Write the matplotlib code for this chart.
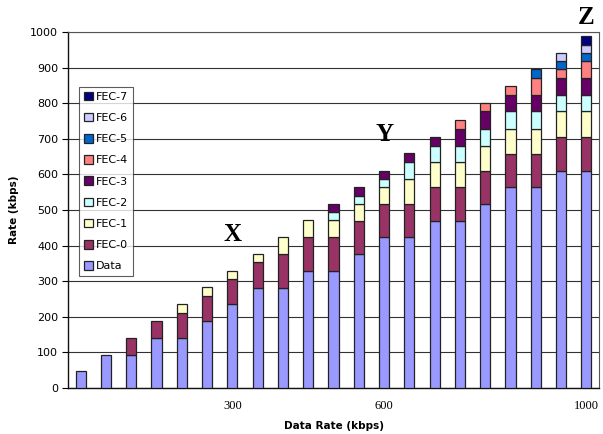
import numpy as np
import matplotlib
matplotlib.use("Agg")
import matplotlib.pyplot as plt

# stacked rate components (kbps) per data-rate step
data = [47, 94, 94, 141, 141, 188, 235, 282, 282, 329, 329, 376, 423, 423, 470, 470, 517, 564, 564, 611, 611]
fec0 = [0, 0, 47, 47, 70, 71, 71, 71, 94, 94, 94, 94, 94, 94, 94, 94, 94, 94, 94, 94, 94]
fec1 = [0, 0, 0, 0, 24, 24, 24, 24, 48, 48, 48, 47, 47, 71, 71, 71, 70, 71, 71, 73, 73]
fec2 = [0, 0, 0, 0, 0, 0, 0, 0, 0, 0, 23, 22, 24, 47, 45, 45, 48, 50, 50, 45, 45]
fec3 = [0, 0, 0, 0, 0, 0, 0, 0, 0, 0, 24, 26, 23, 24, 25, 49, 49, 44, 44, 47, 47]
fec4 = [0, 0, 0, 0, 0, 0, 0, 0, 0, 0, 0, 0, 0, 0, 0, 23, 23, 25, 47, 25, 48]
fec5 = [0, 0, 0, 0, 0, 0, 0, 0, 0, 0, 0, 0, 0, 0, 0, 0, 0, 0, 25, 23, 24]
fec6 = [0, 0, 0, 0, 0, 0, 0, 0, 0, 0, 0, 0, 0, 0, 0, 0, 0, 0, 0, 24, 23]
fec7 = [0, 0, 0, 0, 0, 0, 0, 0, 0, 0, 0, 0, 0, 0, 0, 0, 0, 0, 0, 0, 25]

series_names = ["Data", "FEC-0", "FEC-1", "FEC-2", "FEC-3", "FEC-4", "FEC-5", "FEC-6", "FEC-7"]
colors = ["#9999FF", "#993366", "#FFFFCC", "#CCFFFF", "#660066",
          "#FF8080", "#0066CC", "#CCCCFF", "#000080"]

tick_pos = [6, 12, 20]
tick_labels = ["300", "600", "1000"]

marks = [("X", 6, 430), ("Y", 12, 711), ("Z", 20, 1042)]

fig = plt.figure(figsize=(6.03, 4.34), dpi=100)
ax = fig.add_axes([0.1128, 0.106, 0.8806, 0.82])

x = np.arange(len(data))
bottom = np.zeros(len(data))
for vals, name, col in zip([data, fec0, fec1, fec2, fec3, fec4, fec5, fec6, fec7], series_names, colors):
    vals = np.array(vals, dtype=float)
    keep = vals > 0  # skip empty segments so no stray edge lines are drawn
    ax.bar(x[keep], vals[keep], width=0.4, bottom=bottom[keep], color=col,
           edgecolor="#222222", linewidth=0.9, label=name, zorder=3)
    bottom += vals

ax.set_xlim(-0.5, 20.5)
ax.set_ylim(0, 1000)
ax.set_yticks(np.arange(0, 1001, 100))
ax.yaxis.grid(True, color="#333333", linewidth=0.8, zorder=0)
ax.set_xticks(tick_pos)
ax.set_xticklabels(tick_labels, fontfamily="Liberation Serif", fontsize=9)
ax.tick_params(axis="x", length=0, pad=9)
ax.tick_params(axis="y", direction="out", length=4, width=0.8, labelsize=8, pad=3)

for s in ["top", "right"]:
    ax.spines[s].set_color("#555555")
    ax.spines[s].set_linewidth(0.8)
for s in ["left", "bottom"]:
    ax.spines[s].set_color("#111111")
    ax.spines[s].set_linewidth(1.0)

ax.set_xlabel("Data Rate (kbps)", fontsize=7.5, fontweight="bold", labelpad=6)
ax.set_ylabel("Rate (kbps)", fontsize=7.5, fontweight="bold", labelpad=8)

for letter, lx, ly in marks:
    ax.text(lx, ly, letter, ha="center", va="center", fontsize=18, fontweight="bold",
            fontfamily="Liberation Serif", clip_on=False, zorder=5)

handles, labels = ax.get_legend_handles_labels()
leg = ax.legend(handles[::-1], labels[::-1], loc="upper left", bbox_to_anchor=(0.02, 0.847),
                fontsize=8, frameon=True, fancybox=False, handlelength=0.8, handleheight=0.8,
                handletextpad=0.3, labelspacing=1.0, borderpad=0.45, borderaxespad=0)
leg.get_frame().set_edgecolor("#333333")
leg.get_frame().set_linewidth(0.8)
leg.set_zorder(6)

fig.savefig("out.png", dpi=100)
